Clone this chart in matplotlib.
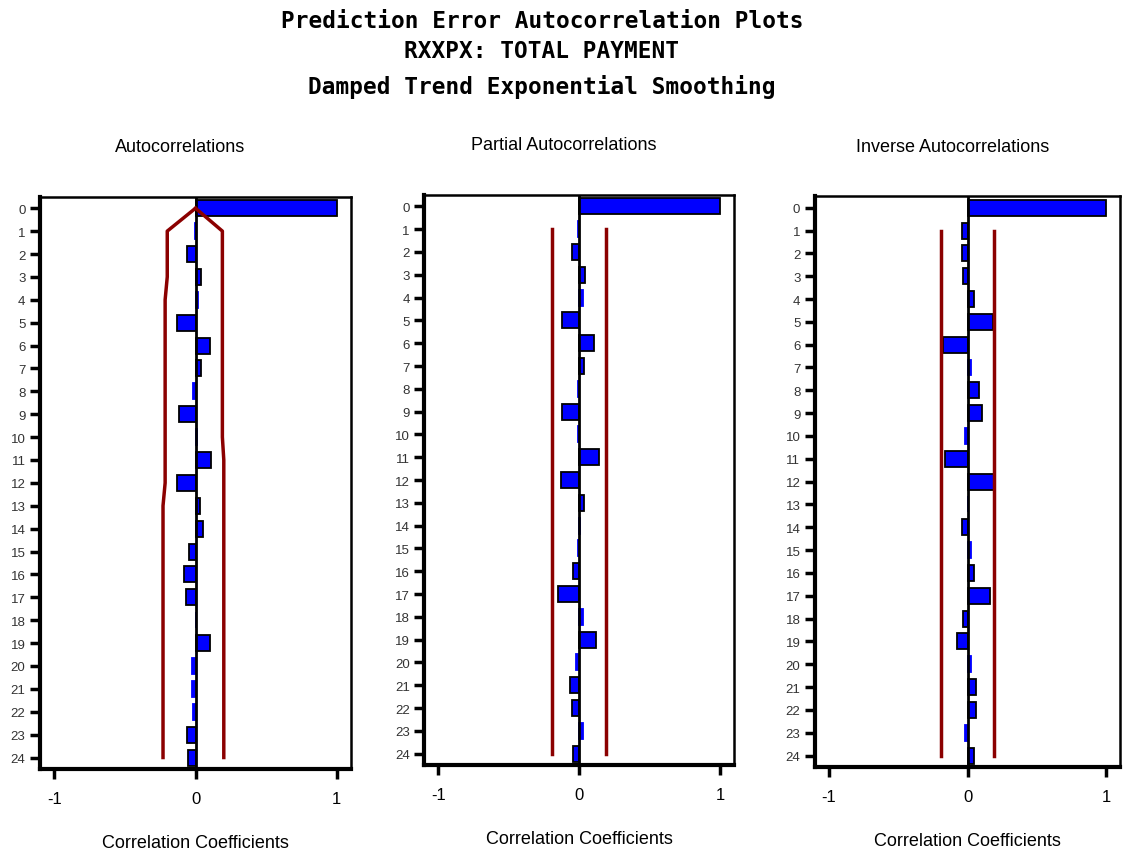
import numpy as np
import matplotlib
matplotlib.use('Agg')
import matplotlib.pyplot as plt

# lags 0..24
lags = list(range(25))

acf = [1.0, -0.005, -0.06, 0.04, 0.02, -0.13, 0.10, 0.04, -0.02, -0.12, 0.01, 0.11, -0.13,
       0.035, 0.05, -0.045, -0.08, -0.07, 0.005, 0.10, -0.025, -0.025, -0.02, -0.06, -0.05]
acf_upper = [0.0] + [0.19] * 10 + [0.20] * 14
acf_lower = [0.0] + [-0.20] * 3 + [-0.215] * 9 + [-0.23] * 12

pacf = [1.0, -0.005, -0.052, 0.045, 0.026, -0.125, 0.106, 0.035, -0.005, -0.125, -0.005, 0.141, -0.127,
        0.035, 0.005, -0.005, -0.042, -0.15, 0.028, 0.118, -0.019, -0.063, -0.052, 0.028, -0.042]
pacf_band = 0.19

iacf = [1.0, -0.04, -0.04, -0.032, 0.048, 0.183, -0.18, 0.022, 0.086, 0.107, -0.019, -0.164, 0.188,
        0.005, -0.04, 0.022, 0.045, 0.16, -0.032, -0.076, 0.022, 0.06, 0.06, -0.019, 0.045]
iacf_band = 0.19

panel_titles = ['Autocorrelations', 'Partial Autocorrelations', 'Inverse Autocorrelations']
main_title = ['Prediction Error Autocorrelation Plots', 'RXXPX: TOTAL PAYMENT',
              'Damped Trend Exponential Smoothing']

blue = '#0000ff'
red = '#8b0000'
narrow = ['Liberation Sans Narrow', 'Liberation Sans', 'DejaVu Sans']

fig = plt.figure(figsize=(11.25, 8.54), dpi=100)

boxes = [[0.0356, 0.0984, 0.2764, 0.670],
         [0.3772, 0.1030, 0.2752, 0.6675],
         [0.7244, 0.1007, 0.2712, 0.6683]]


def draw_panel(ax, vals):
    edges = ['black' if abs(v) >= 0.03 else blue for v in vals]
    ax.barh(lags, vals, height=0.7, color=blue, edgecolor=edges, linewidth=1.3, zorder=3)
    ax.axvline(0, color='black', lw=2, zorder=4)
    ax.set_xlim(-1.1, 1.1)
    ax.set_ylim(24.5, -0.5)
    ax.set_xticks([-1, 0, 1])
    ax.set_xticklabels(['-1', '0', '1'], family=narrow, fontsize=12)
    ax.set_yticks(lags)
    ax.set_yticklabels([str(l) for l in lags], family=narrow, fontsize=9.5, color='#333333')
    ax.tick_params(axis='both', direction='out', length=7, width=2.5)
    ax.tick_params(axis='x', pad=9)
    for s in ['left', 'bottom']:
        ax.spines[s].set_linewidth(3)
    for s in ['top', 'right']:
        ax.spines[s].set_linewidth(1.8)


axes = [fig.add_axes(b) for b in boxes]

draw_panel(axes[0], acf)
axes[0].plot(acf_upper, lags, color=red, lw=2.5, zorder=5)
axes[0].plot(acf_lower, lags, color=red, lw=2.5, zorder=5)

draw_panel(axes[1], pacf)
axes[1].plot([pacf_band, pacf_band], [1, 24], color=red, lw=2.5, zorder=5)
axes[1].plot([-pacf_band, -pacf_band], [1, 24], color=red, lw=2.5, zorder=5)

draw_panel(axes[2], iacf)
axes[2].plot([iacf_band, iacf_band], [1, 24], color=red, lw=2.5, zorder=5)
axes[2].plot([-iacf_band, -iacf_band], [1, 24], color=red, lw=2.5, zorder=5)

title_x = [180 / 1125, 564 / 1125, 953 / 1125]
title_y = [1 - 148 / 854, 1 - 146 / 854, 1 - 148 / 854]
label_y = [1 - 844 / 854, 1 - 840 / 854, 1 - 842 / 854]
for i, ax in enumerate(axes):
    fig.text(title_x[i], title_y[i], panel_titles[i], ha='center', va='center',
             family=narrow, fontsize=13)
    b = boxes[i]
    fig.text(b[0] + b[2] / 2, label_y[i], 'Correlation Coefficients', ha='center', va='center',
             family=narrow, fontsize=13)

for txt, y in zip(main_title, [1 - 21 / 854, 1 - 52 / 854, 1 - 87 / 854]):
    fig.text(542 / 1125, y, txt, ha='center', va='center', family='DejaVu Sans Mono',
             fontweight='bold', fontsize=16.4)

fig.savefig('out.png', dpi=100)
